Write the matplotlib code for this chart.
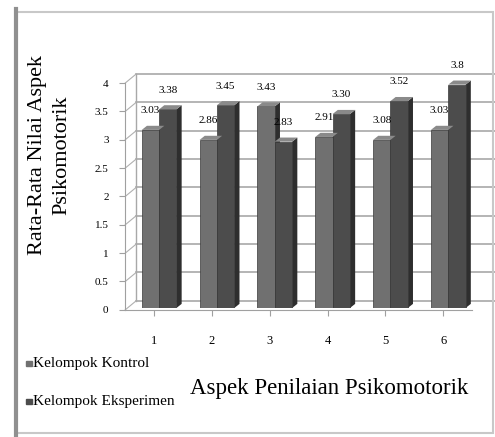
import numpy as np
import matplotlib
matplotlib.use('agg')
import matplotlib.pyplot as plt
from matplotlib import transforms
from matplotlib.patches import Rectangle, Polygon

aspek = ['1', '2', '3', '4', '5', '6']
kontrol = [3.03, 2.86, 3.43, 2.91, 2.86, 3.03]
eksperimen = [3.38, 3.45, 2.83, 3.30, 3.52, 3.80]
lbl_kontrol = ['3.03', '2.86', '3.43', '2.91', '3.08', '3.03']
lbl_eksperimen = ['3.38', '3.45', '2.83', '3.30', '3.52', '3.8']
yticks = [0, 0.5, 1, 1.5, 2, 2.5, 3, 3.5, 4]

plt.rcParams['font.family'] = ['Liberation Serif', 'DejaVu Serif']

fig = plt.figure(figsize=(4.95, 4.37), dpi=100)
ax = fig.add_axes([0.253, 0.291, 0.701, 0.519])
ax.set_xlim(0.5, 6.5)
ax.set_ylim(0, 4)

# back wall offset (3D look)
back = transforms.offset_copy(ax.transData, fig, x=11, y=9, units='dots')
for t in yticks:
    ax.plot([0.5, 6.75], [t, t], color='#a8a8a8', lw=1.2, transform=back, clip_on=False, zorder=0)
    ax.plot([0.5, 0.5 + 0.19], [t, t + 0.16], color='#b0b0b0', lw=0.8, clip_on=False, zorder=0)
ax.plot([0.5, 0.5], [0, 4], color='#a8a8a8', lw=1, transform=back, clip_on=False, zorder=0)

ax.set_xticks(np.arange(1, len(aspek) + 1))
ax.set_xticklabels(aspek, fontsize=9)
ax.set_yticks(yticks)
ax.set_yticklabels(['0', '0.5', '1', '1.5', '2', '2.5', '3', '3.5', '4'], fontsize=8)
ax.tick_params(axis='x', length=4, color='#a0a0a0', pad=14)
ax.tick_params(axis='y', length=4, color='#a0a0a0', pad=8)
for s in ['top', 'right']:
    ax.spines[s].set_visible(False)
for s in ['left', 'bottom']:
    ax.spines[s].set_color('#a0a0a0')

# bars live in their own axes: floor at the front, top at the back wall
bx = fig.add_axes([0.263, 0.2952, 0.701, 0.538])
bx.set_xlim(0.5, 6.5)
bx.set_ylim(0, 4)
bx.axis('off')

c1, c2 = '#707070', '#4c4c4c'
x = np.arange(1, len(aspek) + 1)
w = 0.3
dx, dy = 0.09, 0.07
for xs, vals, col, labs in [(x - 0.15, kontrol, c1, lbl_kontrol), (x + 0.15, eksperimen, c2, lbl_eksperimen)]:
    bx.bar(xs, vals, width=w, color=col, edgecolor='#3a3a3a', lw=0.5, zorder=3)
    for xi, v, lab in zip(xs, vals, labs):
        # side and top faces
        side = Polygon([(xi + w / 2, 0), (xi + w / 2 + dx, dy), (xi + w / 2 + dx, v + dy), (xi + w / 2, v)],
                       closed=True, facecolor='#2e2e2e', edgecolor='none', zorder=2, clip_on=False)
        top = Polygon([(xi - w / 2, v), (xi - w / 2 + dx, v + dy), (xi + w / 2 + dx, v + dy), (xi + w / 2, v)],
                      closed=True, facecolor='#8a8a8a', edgecolor='none', zorder=4, clip_on=False)
        bx.add_patch(side)
        bx.add_patch(top)
        bx.text(xi, v + 0.25, lab, ha='center', va='bottom', fontsize=8, zorder=5, clip_on=False)

fig.text(0.076, 0.645, 'Rata-Rata Nilai Aspek', rotation=90, ha='center', va='center', fontsize=16)
fig.text(0.126, 0.645, 'Psikomotorik', rotation=90, ha='center', va='center', fontsize=16)
fig.text(0.666, 0.112, 'Aspek Penilaian Psikomotorik', ha='center', va='center', fontsize=16.5)

# legend
fig.patches.append(Rectangle((0.052, 0.162), 0.012, 0.012, transform=fig.transFigure, color=c1))
fig.text(0.066, 0.169, 'Kelompok Kontrol', va='center', fontsize=11)
fig.patches.append(Rectangle((0.052, 0.076), 0.012, 0.012, transform=fig.transFigure, color=c2))
fig.text(0.066, 0.082, 'Kelompok Eksperimen', va='center', fontsize=11)

# outer frame
fig.patches.append(Rectangle((0.032, 0.01), 0.963, 0.962, transform=fig.transFigure,
                             fill=False, edgecolor='#c8c8c8', lw=1.5))
fig.lines.append(plt.Line2D([0.033, 0.033], [0.0, 0.98], transform=fig.transFigure, color='#909090', lw=3))

fig.savefig('out.png', dpi=100)
